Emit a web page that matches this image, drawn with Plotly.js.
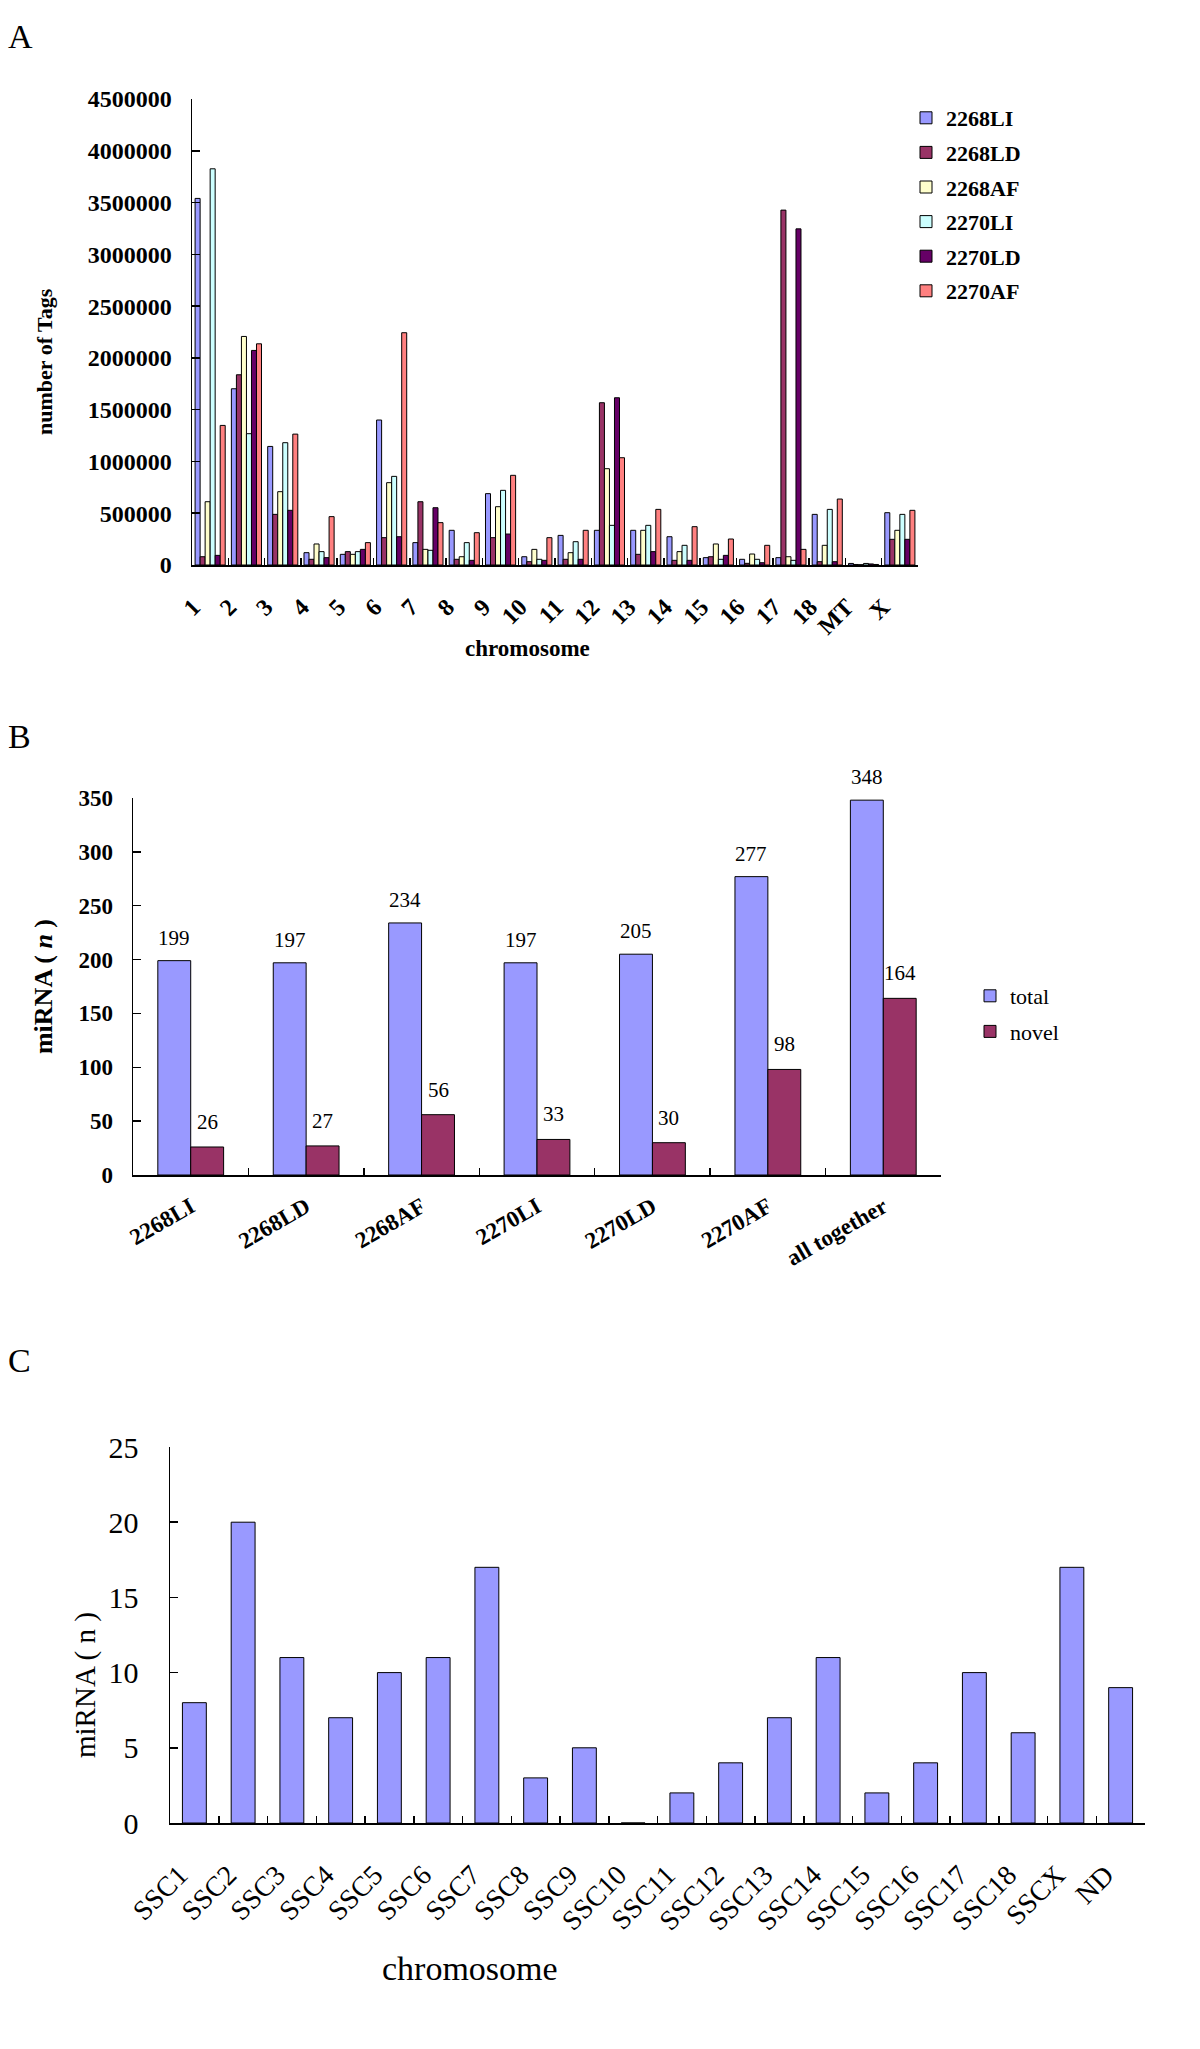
<!DOCTYPE html>
<html>
<head>
<meta charset="utf-8">
<script src="https://cdn.plot.ly/plotly-3.0.1.min.js"></script>
<style>html,body{margin:0;padding:0;background:#fff;}#chart{width:1200px;height:2049px;}</style>
</head>
<body>
<div id="chart"></div>
<script>
// ---------- Panel A data ----------
const chromosomesA = ['1','2','3','4','5','6','7','8','9','10','11','12','13','14','15','16','17','18','MT','X'];
const tags2268LI = [3540000,1702000,1145000,119000,103000,1400000,216000,335000,689000,80000,286000,335000,335000,273000,71000,55000,71000,489000,15000,505000];
const tags2268LD = [80000,1837000,489000,55000,129000,264000,611000,55000,264000,32000,55000,1567000,103000,45000,80000,16000,3427000,32000,5000,248000];
const tags2268AF = [611000,2207000,708000,203000,103000,795000,151000,80000,563000,151000,119000,930000,335000,129000,203000,106000,80000,190000,3000,335000];
const tags2270LI = [3826000,1268000,1181000,129000,129000,856000,142000,216000,721000,55000,225000,383000,383000,190000,55000,55000,45000,537000,15000,489000];
const tags2270LD = [93000,2072000,528000,71000,151000,273000,553000,45000,299000,45000,55000,1615000,129000,45000,93000,22000,3246000,32000,10000,248000];
const tags2270AF = [1348000,2136000,1264000,467000,216000,2243000,409000,312000,866000,264000,335000,1036000,537000,370000,251000,190000,151000,637000,5000,528000];
const seriesNamesA = ['2268LI','2268LD','2268AF','2270LI','2270LD','2270AF'];

// ---------- Panel B data ----------
const librariesB = ['2268LI','2268LD','2268AF','2270LI','2270LD','2270AF','all together'];
const totalB = [199,197,234,197,205,277,348];
const novelB = [26,27,56,33,30,98,164];

// ---------- Panel C data ----------
const chromosomesC = ['SSC1','SSC2','SSC3','SSC4','SSC5','SSC6','SSC7','SSC8','SSC9','SSC10','SSC11','SSC12','SSC13','SSC14','SSC15','SSC16','SSC17','SSC18','SSCX','ND'];
const mirnaC = [8,20,11,7,10,11,17,3,5,0,2,4,7,11,2,4,10,6,17,9];

// ---------- helpers ----------
const W = 1200, H = 2049;
const px = x => x / W;
const py = y => 1 - y / H;
const SERIF = '"Times New Roman", "Liberation Serif", serif';
const colorsA = ['#9999FF','#993366','#FFFFCC','#CCFFFF','#660066','#FF8080'];
const outline = {color:'#000', width:1};
const NB = '\u00A0';

const valuesA = [tags2268LI, tags2268LD, tags2268AF, tags2270LI, tags2270LD, tags2270AF];
const traces = [];
valuesA.forEach((vals, i) => {
  traces.push({
    type:'bar', x: chromosomesA, y: vals, name: seriesNamesA[i],
    xaxis:'x', yaxis:'y', legend:'legend', legendgroup:'a'+i,
    marker:{color: colorsA[i], line: outline}, hoverinfo:'x+y+name'
  });
});
const BW = 0.285;
traces.push({
  type:'bar', x: librariesB, y: totalB, name:'total', xaxis:'x2', yaxis:'y2',
  legend:'legend2', legendgroup:'b0', width: BW, offset: -BW,
  marker:{color:'#9999FF', line: outline}
});
traces.push({
  type:'bar', x: librariesB, y: novelB, name:'novel', xaxis:'x2', yaxis:'y2',
  legend:'legend2', legendgroup:'b1', width: BW, offset: 0,
  marker:{color:'#993366', line: outline}
});
traces.push({
  type:'bar', x: chromosomesC, y: mirnaC, name:'miRNA', xaxis:'x3', yaxis:'y3',
  showlegend:false, width:0.49, offset:-0.245,
  marker:{color:'#9999FF', line: outline}
});

const baseX = {
  type:'category', showline:true, linecolor:'#000', linewidth:1.5,
  ticks:'inside', tickson:'boundaries', ticklen:7, tickcolor:'#000', tickwidth:1.5,
  showgrid:false, zeroline:false, fixedrange:true
};
const baseY = {
  showline:true, linecolor:'#000', linewidth:1.5, ticks:'inside', ticklen:8,
  tickcolor:'#000', tickwidth:1.5, showgrid:false, zeroline:false, fixedrange:true
};

// value labels above the bars of panel B
const labelFont = {family: SERIF, size:21, color:'#000'};
const barLabels = [];
librariesB.forEach((lib, i) => {
  barLabels.push({text:String(totalB[i]), x: i - BW/2, y: totalB[i], xref:'x2', yref:'y2',
    xanchor:'center', yanchor:'bottom', yshift:9, showarrow:false, font: labelFont});
  barLabels.push({text:String(novelB[i]), x: i + BW/2, y: novelB[i], xref:'x2', yref:'y2',
    xanchor:'center', yanchor:'bottom', yshift:11, showarrow:false, font: labelFont});
});

const layout = {
  width: W, height: H, margin:{l:0,r:0,t:0,b:0},
  paper_bgcolor:'#fff', plot_bgcolor:'#fff',
  font:{family: SERIF, color:'#000'},
  barmode:'group',
  // Panel A
  xaxis: Object.assign({}, baseX, {
    domain:[px(192), px(918)], anchor:'y',
    tickangle:-45, tickfont:{family: SERIF, size:24, color:'#000', weight:'bold'},
    ticksuffix: NB+NB+NB+NB, ticklabelstandoff: 0
  }),
  yaxis: Object.assign({}, baseY, {
    domain:[py(565), py(99)], anchor:'x', range:[0,4500000], dtick:500000,
    tickformat:'d', tickfont:{family: SERIF, size:24, color:'#000', weight:'bold'},
    ticklabelstandoff: 14
  }),
  // Panel B
  xaxis2: Object.assign({}, baseX, {
    domain:[px(133), px(941)], anchor:'y2',
    tickangle:-30, tickfont:{family: SERIF, size:23, color:'#000', weight:'bold'},
    ticklabelstandoff: 8
  }),
  yaxis2: Object.assign({}, baseY, {
    domain:[py(1175), py(798)], anchor:'x2', range:[0,350], dtick:50,
    tickfont:{family: SERIF, size:23, color:'#000', weight:'bold'},
    ticklabelstandoff: 14,
    title:{text:'miRNA ( <i>n</i> )', font:{family: SERIF, size:26, color:'#000', weight:'bold'}, standoff:18}
  }),
  // Panel C
  xaxis3: Object.assign({}, baseX, {
    domain:[px(170), px(1145)], anchor:'y3',
    tickangle:-45, tickfont:{family: SERIF, size:28, color:'#000'},
    ticksuffix: NB+NB+NB, ticklabelstandoff: 8
  }),
  yaxis3: Object.assign({}, baseY, {
    domain:[py(1823), py(1447)], anchor:'x3', range:[0,25], dtick:5,
    tickfont:{family: SERIF, size:30, color:'#000'},
    ticklabelstandoff: 24
  }),
  legend:{
    x: px(906), y: py(97), xanchor:'left', yanchor:'top',
    bgcolor:'rgba(0,0,0,0)', borderwidth:0, tracegroupgap:3,
    font:{family: SERIF, size:22, color:'#000', weight:'bold'}, itemclick:false, itemdoubleclick:false
  },
  legend2:{
    x: px(970), y: py(975), xanchor:'left', yanchor:'top',
    bgcolor:'rgba(0,0,0,0)', borderwidth:0, tracegroupgap:4,
    font:{family: SERIF, size:22, color:'#000'}, itemclick:false, itemdoubleclick:false
  },
  annotations:[
    {text:'A', x:px(6), y:py(16), xref:'paper', yref:'paper', xanchor:'left', yanchor:'top', showarrow:false, font:{family: SERIF, size:34, color:'#000'}},
    {text:'B', x:px(6), y:py(716), xref:'paper', yref:'paper', xanchor:'left', yanchor:'top', showarrow:false, font:{family: SERIF, size:34, color:'#000'}},
    {text:'C', x:px(6), y:py(1340), xref:'paper', yref:'paper', xanchor:'left', yanchor:'top', showarrow:false, font:{family: SERIF, size:34, color:'#000'}},
    {text:'number of Tags', x:px(45), y:py(362), xref:'paper', yref:'paper', textangle:-90, xanchor:'center', yanchor:'middle', showarrow:false, font:{family: SERIF, size:22, color:'#000', weight:'bold'}},
    {text:'chromosome', x:px(527), y:py(648), xref:'paper', yref:'paper', xanchor:'center', yanchor:'middle', showarrow:false, font:{family: SERIF, size:23, color:'#000', weight:'bold'}},
    {text:'miRNA ( n )', x:px(85), y:py(1685), xref:'paper', yref:'paper', textangle:-90, xanchor:'center', yanchor:'middle', showarrow:false, font:{family: SERIF, size:29, color:'#000'}},
    {text:'chromosome', x:px(470), y:py(1968), xref:'paper', yref:'paper', xanchor:'center', yanchor:'middle', showarrow:false, font:{family: SERIF, size:34, color:'#000'}}
  ].concat(barLabels),
  bargap:0.17, bargroupgap:0
};

Plotly.newPlot('chart', traces, layout, {displayModeBar:false, staticPlot:true});
</script>
</body>
</html>
